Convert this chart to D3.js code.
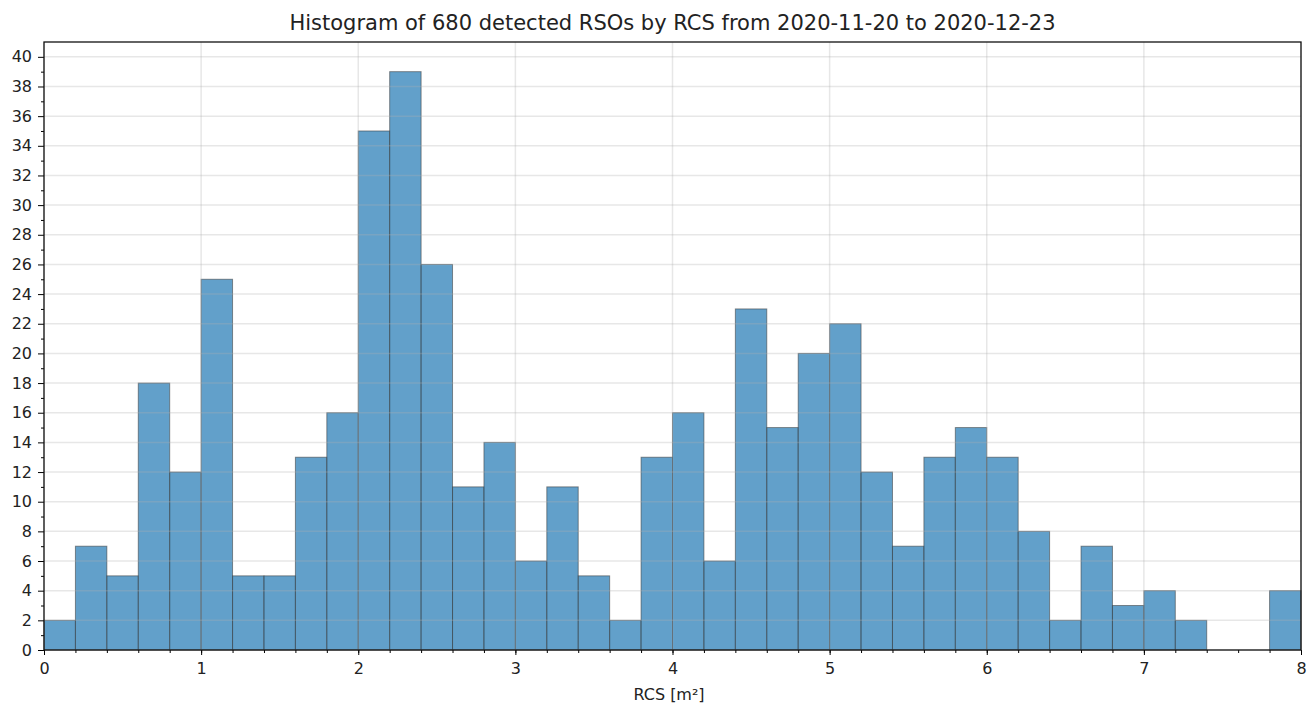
<!DOCTYPE html>
<html>
<head>
<meta charset="utf-8">
<script src="https://cdn.jsdelivr.net/npm/d3@7.9.0/dist/d3.min.js"></script>
<style>
  body { margin: 0; background: #fff; }
  text { font-family: "DejaVu Sans", sans-serif; fill: #222; }
</style>
</head>
<body>
<svg id="chart" width="1307" height="704"></svg>
<script>
// bin edges 0..8 step 0.2, counts
const binWidth = 0.2;
const binStarts = d3.range(0, 40).map(i => +(i * binWidth).toFixed(1));
const counts = [2, 7, 5, 18, 12, 25, 5, 5, 13, 16,
                35, 39, 26, 11, 14, 6, 11, 5, 2, 13,
                16, 6, 23, 15, 20, 22, 12, 7, 13, 15,
                13, 8, 2, 7, 3, 4, 2, 0, 0, 4];
const xTicks = [0, 1, 2, 3, 4, 5, 6, 7, 8];
const yTicks = d3.range(0, 41, 2);
const titleText = 'Histogram of 680 detected RSOs by RCS from 2020-11-20 to 2020-12-23';
const xLabel = 'RCS [m²]';

const margin = { top: 42, right: 6, bottom: 54, left: 44 };
const W = 1307, H = 704;
const svg = d3.select('#chart');

const x = d3.scaleLinear().domain([0, 8]).range([margin.left, W - margin.right]);
const y = d3.scaleLinear().domain([0, 41]).range([H - margin.bottom, margin.top]);

const bins = binStarts.map((s, i) => ({ x0: s, x1: s + binWidth, n: counts[i] }));

// bars
svg.append('g')
  .selectAll('rect')
  .data(bins.filter(d => d.n > 0))
  .enter()
  .append('rect')
  .attr('x', d => x(d.x0))
  .attr('y', d => y(d.n))
  .attr('width', d => x(d.x1) - x(d.x0))
  .attr('height', d => y(0) - y(d.n))
  .attr('fill', '#1f77b4')
  .attr('fill-opacity', 0.7)
  .attr('stroke', '#3a3a3a')
  .attr('stroke-opacity', 0.55)
  .attr('stroke-width', 1);

// grid on top of bars, faint
const grid = svg.append('g');
grid.selectAll('line.h')
  .data(yTicks)
  .enter()
  .append('line')
  .attr('x1', margin.left).attr('x2', W - margin.right)
  .attr('y1', d => y(d)).attr('y2', d => y(d))
  .attr('stroke', '#b0b0b0').attr('stroke-opacity', 0.3).attr('stroke-width', 1.5);
grid.selectAll('line.v')
  .data(xTicks)
  .enter()
  .append('line')
  .attr('y1', margin.top).attr('y2', H - margin.bottom)
  .attr('x1', d => x(d)).attr('x2', d => x(d))
  .attr('stroke', '#b0b0b0').attr('stroke-opacity', 0.3).attr('stroke-width', 1.5);

// axes
const xAxis = d3.axisBottom(x).tickValues(xTicks).tickFormat(d3.format('d')).tickSize(5).tickPadding(8);
const xMinor = d3.axisBottom(x).tickValues(d3.range(0, 41).map(i => i * binWidth)).tickFormat('').tickSize(3);
const yAxis = d3.axisLeft(y).tickValues(yTicks).tickFormat(d3.format('d')).tickSize(6).tickPadding(6);
const yMinor = d3.axisLeft(y).tickValues(d3.range(1, 41, 2)).tickFormat('').tickSize(3);

function styleAxis(g) {
  g.select('.domain').remove();
  g.selectAll('line').attr('stroke', '#000').attr('stroke-width', 1);
  g.selectAll('text').style('font-size', '16px').attr('fill', '#222');
}

svg.append('g').attr('transform', `translate(0,${y(0)})`).call(xMinor).call(styleAxis);
svg.append('g').attr('transform', `translate(0,${y(0)})`).call(xAxis).call(styleAxis);
svg.append('g').attr('transform', `translate(${margin.left},0)`).call(yMinor).call(styleAxis);
svg.append('g').attr('transform', `translate(${margin.left},0)`).call(yAxis).call(styleAxis);

// frame
svg.append('rect')
  .attr('x', margin.left).attr('y', margin.top)
  .attr('width', W - margin.left - margin.right)
  .attr('height', H - margin.top - margin.bottom)
  .attr('fill', 'none').attr('stroke', '#111').attr('stroke-width', 1.3);

svg.append('text')
  .attr('x', (margin.left + W - margin.right) / 2)
  .attr('y', 30)
  .attr('text-anchor', 'middle')
  .style('font-size', '21px')
  .text(titleText);

svg.append('text')
  .attr('x', 669)
  .attr('y', 700)
  .attr('text-anchor', 'middle')
  .style('font-size', '16px')
  .text(xLabel);
</script>
</body>
</html>
